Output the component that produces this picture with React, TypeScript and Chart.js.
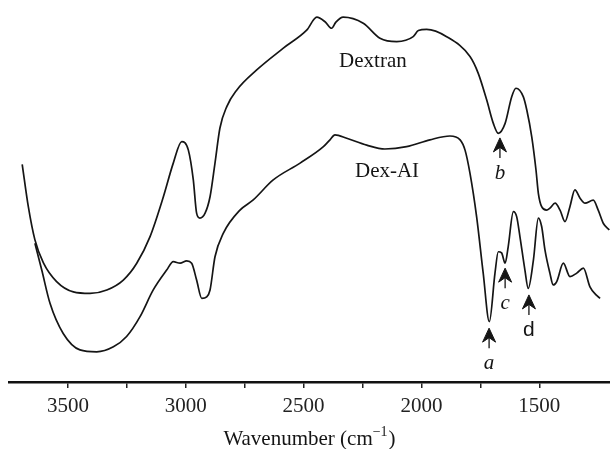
import React, { useEffect, useRef } from 'react';
import { Chart, registerables } from 'chart.js';

Chart.register(...registerables);

// Dextran spectrum: wavenumber (cm^-1) and transmittance (arbitrary %)
const dextranWavenumber = [
  3694, 3668, 3640, 3604, 3548, 3477, 3406, 3335, 3265, 3208, 3152, 3095, 3053, 3017, 2989, 2968, 2954, 2940,
  2918, 2897, 2876, 2855, 2826, 2784, 2699, 2586, 2487, 2444, 2409, 2381, 2363, 2332, 2247, 2176, 2105, 2035,
  2013, 1978, 1893, 1794, 1759, 1723, 1695, 1674, 1645, 1617, 1599, 1568, 1553, 1532, 1514, 1504, 1490, 1469,
  1455, 1433, 1412, 1391, 1370, 1349, 1327, 1306, 1271, 1250, 1228, 1203,
];
const dextranT = [
  57.0, 45.9, 37.2, 31.2, 26.3, 23.6, 23.2, 24.1, 26.7, 31.1, 38.0, 48.5, 57.3, 62.9, 60.7, 52.9, 44.2, 42.9,
  44.2, 48.5, 57.3, 66.5, 72.1, 76.4, 81.7, 87.4, 92.1, 95.5, 94.3, 92.6, 94.2, 95.5, 93.9, 90.0, 89.1, 90.4,
  92.0, 92.3, 90.4, 85.2, 80.8, 73.8, 67.7, 65.1, 67.7, 74.7, 76.9, 74.7, 71.2, 64.2, 55.5, 49.4, 45.9, 45.0,
  45.5, 46.8, 45.0, 42.0, 45.9, 50.3, 48.1, 46.8, 47.6, 45.0, 41.5, 39.8,
];

// Dex-AI spectrum
const dexAIWavenumber = [
  3640, 3611, 3576, 3520, 3449, 3378, 3307, 3251, 3194, 3138, 3081, 3053, 3024, 2996, 2975, 2954, 2932, 2911,
  2897, 2876, 2841, 2770, 2715, 2629, 2515, 2416, 2388, 2367, 2317, 2232, 2155, 2063, 1964, 1879, 1836, 1815,
  1794, 1766, 1738, 1712, 1688, 1674, 1660, 1645, 1632, 1610, 1596, 1582, 1561, 1547, 1525, 1504, 1490, 1476,
  1455, 1441, 1426, 1398, 1370, 1341, 1313, 1285, 1259, 1242,
];
const dexAIT = [
  36.3, 29.3, 20.6, 12.7, 8.4, 7.9, 9.2, 11.9, 17.1, 24.1, 29.3, 31.5, 31.1, 31.7, 31.1, 26.7, 21.9, 22.3,
  24.1, 32.8, 38.9, 45.0, 47.6, 52.9, 57.3, 61.6, 63.4, 64.7, 63.8, 62.0, 61.0, 61.6, 63.4, 64.4, 63.4, 60.7,
  54.6, 43.3, 28.5, 15.8, 28.5, 34.1, 33.8, 31.1, 35.4, 44.6, 43.3, 38.0, 29.3, 24.5, 31.9, 42.9, 40.7, 34.6,
  28.5, 25.4, 26.3, 31.1, 27.6, 28.5, 29.8, 24.9, 22.8, 21.9,
];

// Axis ticks
const majorTicks = [1500, 2000, 2500, 3000, 3500];
const minorTicks = [1750, 2250, 2750, 3250];

// Curve name labels
const curveNames = ['Dextran', 'Dex-AI'];
const curveNameX = [2206, 2146];
const curveNameY = [83.8, 55.0];

// Peak arrows
const arrowNames = ['a', 'b', 'c', 'd'];
const arrowX = [1713, 1667, 1645, 1544];
const arrowTipY = [14.1, 63.9, 29.8, 22.8];

const SERIF = '"Liberation Serif", "Times New Roman", serif';
const SANS = '"Liberation Sans", Arial, sans-serif';
const INK = '#151515';

export default function App() {
  const ref = useRef<HTMLCanvasElement>(null);

  useEffect(() => {
    const canvas = ref.current;
    if (!canvas) return;
    const toPts = (xs: number[], ys: number[]) => xs.map((x, i) => ({ x, y: ys[i] }));

    const annot = {
      id: 'annot',
      afterDatasetsDraw(chart: any) {
        const c = chart.ctx as CanvasRenderingContext2D;
        const xs = chart.scales.x;
        const ys = chart.scales.y;
        c.save();
        c.fillStyle = INK;
        c.strokeStyle = INK;
        // curve names
        c.font = `21px ${SERIF}`;
        c.textAlign = 'center';
        c.textBaseline = 'middle';
        curveNames.forEach((n, i) => {
          c.fillText(n, xs.getPixelForValue(curveNameX[i]), ys.getPixelForValue(curveNameY[i]));
        });
        // arrows
        arrowNames.forEach((n, i) => {
          const px = xs.getPixelForValue(arrowX[i]);
          const py = ys.getPixelForValue(arrowTipY[i]);
          c.beginPath();
          c.moveTo(px, py);
          c.lineTo(px + 6.5, py + 14);
          c.lineTo(px, py + 9.5);
          c.lineTo(px - 6.5, py + 14);
          c.closePath();
          c.lineWidth = 1;
          c.lineJoin = 'miter';
          c.fill();
          c.stroke();
          c.beginPath();
          c.lineWidth = 1.3;
          c.moveTo(px, py + 9);
          c.lineTo(px, py + 20);
          c.stroke();
          c.font = n === 'd' ? `21px ${SANS}` : `italic 21px ${SERIF}`;
          c.textBaseline = 'alphabetic';
          c.fillText(n, px, py + 41);
        });
        c.restore();
      },
      afterDraw(chart: any) {
        const c = chart.ctx as CanvasRenderingContext2D;
        const area = chart.chartArea;
        const cx = (area.left + area.right) / 2;
        const base = 445;
        const main = 'Wavenumber (cm';
        const sup = '\u22121';
        const close = ')';
        c.save();
        c.fillStyle = INK;
        c.textBaseline = 'alphabetic';
        c.textAlign = 'left';
        c.font = `21px ${SERIF}`;
        const w1 = c.measureText(main).width;
        const w3 = c.measureText(close).width;
        c.font = `14px ${SERIF}`;
        const w2 = c.measureText(sup).width;
        const total = w1 + w2 + w3 + 1;
        let x = cx - total / 2;
        c.font = `21px ${SERIF}`;
        c.fillText(main, x, base);
        x += w1;
        c.font = `14px ${SERIF}`;
        c.fillText(sup, x, base - 9);
        x += w2 + 1;
        c.font = `21px ${SERIF}`;
        c.fillText(close, x, base);
        c.restore();
      },
    };

    const chart = new Chart(canvas, {
      type: 'line',
      data: {
        datasets: [
          {
            label: curveNames[0],
            data: toPts(dextranWavenumber, dextranT),
            borderColor: INK,
            borderWidth: 1.7,
            pointRadius: 0,
            cubicInterpolationMode: 'monotone',
            fill: false,
          },
          {
            label: curveNames[1],
            data: toPts(dexAIWavenumber, dexAIT),
            borderColor: INK,
            borderWidth: 1.7,
            pointRadius: 0,
            cubicInterpolationMode: 'monotone',
            fill: false,
          },
        ],
      },
      options: {
        animation: false,
        responsive: false,
        layout: { padding: { left: 9, right: 0, top: 0, bottom: 0 } },
        plugins: { legend: { display: false }, tooltip: { enabled: false } },
        scales: {
          x: {
            type: 'linear',
            reverse: true,
            min: 1200,
            max: 3750,
            afterBuildTicks: (s: any) => {
              s.ticks = [...majorTicks, ...minorTicks].sort((a, b) => a - b).map((v) => ({ value: v }));
            },
            afterFit: (s: any) => {
              s.height = 67;
            },
            grid: {
              display: true,
              drawOnChartArea: false,
              drawTicks: true,
              tickLength: 6,
              color: '#222',
              lineWidth: 1.5,
            },
            border: { display: true, color: '#111', width: 2.5 },
            ticks: {
              autoSkip: false,
              maxRotation: 0,
              padding: 6,
              color: '#222',
              font: { family: SERIF, size: 21 },
              callback: (v: any) => (majorTicks.includes(Number(v)) ? String(v) : ''),
            },
            title: { display: false },
          },
          y: { display: false, min: 0, max: 100 },
        },
      },
      plugins: [annot],
    } as any);

    return () => chart.destroy();
  }, []);

  return (
    <div style={{ position: 'absolute', left: 0, top: 0, width: 610, height: 449, background: '#fff' }}>
      <canvas ref={ref} width={610} height={449} />
    </div>
  );
}
